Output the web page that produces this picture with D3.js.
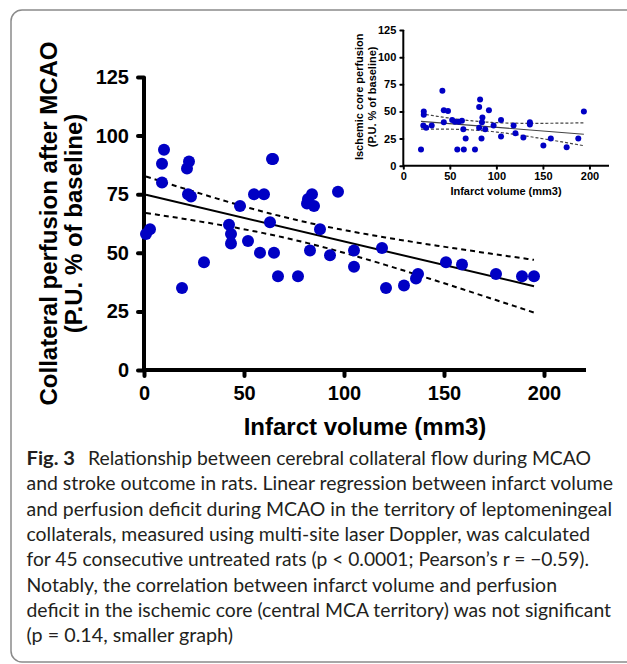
<!DOCTYPE html>
<html><head><meta charset="utf-8">
<script src="https://cdn.jsdelivr.net/npm/d3@7"></script>
<style>body{margin:0;background:#fff}svg{display:block}</style>
</head><body><svg id="c" width="627" height="664"></svg>
<script>
// ---- data ----
const mainInfarct = [1,3,10,9,9,22.5,21.5,22,23.5,19,30,42.5,43.5,43.5,48,52,55,58,60,64,64.5,63,65,67,77,81.5,82,84,85,83,88,93,97,105,105,119,121,130,136,137,151,159,176,189,195];
const mainPerfusion = [58,60,94,88,80,89,86,75,74,35,46,62,58,54,70,55,75,50,75,90,90,63,50,40,40,71,73,75,70,51,60,49,76,51,44,52,35,36,39,41,46,45,41,40,40];
const insetInfarct = [19,22,22,21.5,24.5,30.5,42,43.5,48,43.5,52.5,55.5,59.5,63,64.5,58,65,67,77,81.5,82.5,81.5,84,85,84.5,88,92,97,105,105,118.5,120.5,129,136,136,150.5,158.5,175.5,188,194];
const insetPerfusion = [15,50,47,37,35,37,69,51,50.5,40,42,40.5,40.5,41.5,33.5,15,15,25,15,54,61,35,25,44.5,40,33.5,51,37,42,27,37,30,26,40,38,18.5,25,17,25,50];
const yTicks = [0,25,50,75,100,125];
const xTicks = [0,50,100,150,200];
const captionBold = "Fig. 3";
const captionLines = [
  "Relationship between cerebral collateral flow during MCAO",
  "and stroke outcome in rats. Linear regression between infarct volume",
  "and perfusion deficit during MCAO in the territory of leptomeningeal",
  "collaterals, measured using multi-site laser Doppler, was calculated",
  "for 45 consecutive untreated rats (p < 0.0001; Pearson\u2019s r = \u22120.59).",
  "Notably, the correlation between infarct volume and perfusion",
  "deficit in the ischemic core (central MCA territory) was not significant",
  "(p = 0.14, smaller graph)"
];
const captionRight = [591,613,612,590,589,557,611,233];

const svg = d3.select("#c");

// outer rounded frame
svg.append("rect").attr("x",11).attr("y",10).attr("width",660).attr("height",652)
  .attr("rx",11).attr("fill","none").attr("stroke","#8a8a8a").attr("stroke-width",1.5);

function fit(xs, ys){
  const n = xs.length, xm = d3.mean(xs), ym = d3.mean(ys);
  let sxx=0, sxy=0;
  for(let i=0;i<n;i++){ sxx+=(xs[i]-xm)**2; sxy+=(xs[i]-xm)*(ys[i]-ym); }
  const b = sxy/sxx, a = ym - b*xm;
  let sse=0; for(let i=0;i<n;i++){ sse+=(ys[i]-(a+b*xs[i]))**2; }
  const s = Math.sqrt(sse/(n-2));
  return {a,b,s,n,xm,sxx,t:2.02};
}

function drawPanel(opt){
  const g = svg.append("g");
  const x = d3.scaleLinear().domain([0,221]).range(opt.xr);
  const y = d3.scaleLinear().domain([0,125]).range(opt.yr);
  const xs = opt.xs, ys = opt.ys;
  // axes
  const yAxis = d3.axisLeft(y).tickValues(yTicks).tickSize(opt.tick).tickPadding(opt.pad).tickFormat(d3.format("d"));
  const xAxis = d3.axisBottom(x).tickValues(xTicks).tickSize(opt.tick).tickPadding(opt.padx).tickFormat(d3.format("d"));
  const ga = g.append("g").attr("transform",`translate(${opt.xr[0]},0)`).call(yAxis);
  const gb = g.append("g").attr("transform",`translate(0,${opt.yr[0]})`).call(xAxis);
  [ga,gb].forEach(a=>{
    a.select(".domain").remove();
    a.selectAll(".tick line").attr("stroke","#000").attr("stroke-width",opt.aw).attr("stroke-linecap","round");
    a.selectAll(".tick text").attr("fill","#000").style("font-family","'Liberation Sans',Arial,sans-serif")
      .style("font-weight","bold").style("font-size",opt.fs+"px");
  });
  g.append("line").attr("x1",opt.xr[0]).attr("x2",opt.xr[0]).attr("y1",opt.yr[0]+opt.aw/2).attr("y2",opt.yr[1])
    .attr("stroke","#000").attr("stroke-width",opt.aw);
  g.append("line").attr("x1",opt.xr[0]).attr("x2",opt.xr[1]).attr("y1",opt.yr[0]).attr("y2",opt.yr[0])
    .attr("stroke","#000").attr("stroke-width",opt.aw);
  // regression
  const f = fit(xs,ys);
  const x0 = d3.min(xs), x1 = d3.max(xs);
  const grid = d3.range(0,61).map(i=>x0+(x1-x0)*i/60);
  const half = v => f.t*f.s*Math.sqrt(1/f.n + (v-f.xm)**2/f.sxx);
  const line = d3.line().x(d=>x(d[0])).y(d=>y(d[1]));
  g.append("path").attr("d",line(grid.map(v=>[v,f.a+f.b*v+half(v)]))).attr("fill","none")
    .attr("stroke",opt.lc).attr("stroke-width",opt.dw).attr("stroke-dasharray",opt.dash);
  g.append("path").attr("d",line(grid.map(v=>[v,f.a+f.b*v-half(v)]))).attr("fill","none")
    .attr("stroke",opt.lc).attr("stroke-width",opt.dw).attr("stroke-dasharray",opt.dash);
  g.append("path").attr("d",line([x0,x1].map(v=>[v,f.a+f.b*v]))).attr("fill","none")
    .attr("stroke",opt.lc).attr("stroke-width",opt.lw);
  // points
  g.append("g").selectAll("circle").data(xs.map((v,i)=>[v,ys[i]])).join("circle")
    .attr("cx",d=>x(d[0])).attr("cy",d=>y(d[1])).attr("r",opt.r).attr("fill","#0000c4");
  // titles
  const tf = "'Liberation Sans',Arial,sans-serif";
  const cy = (opt.yr[0]+opt.yr[1])/2 + opt.ty;
  opt.ytitle.forEach((t,i)=>{
    g.append("text").attr("transform",`translate(${opt.yb[i]},${cy}) rotate(-90)`).attr("text-anchor","middle")
      .style("font-family",tf).style("font-weight","bold").style("font-size",opt.tfs+"px").text(t);
  });
  g.append("text").attr("x",opt.xtx).attr("y",opt.xty).attr("text-anchor","middle")
    .style("font-family",tf).style("font-weight","bold").style("font-size",opt.tfs+"px").text("Infarct volume (mm3)");
}

drawPanel({xs:mainInfarct, ys:mainPerfusion, xr:[144,586], yr:[370,77], tick:6, pad:9, padx:10, aw:4, fs:20,
  lc:"#000", lw:2, dw:2, dash:"5,4", r:6, ytitle:["Collateral perfusion after MCAO","(P.U. % of baseline)"],
  yb:[57,82], ty:0, tfs:24, xtx:365, xty:435});
drawPanel({xs:insetInfarct, ys:insetPerfusion, xr:[403.3,609], yr:[165.7,30], tick:3, pad:4, padx:4, aw:2, fs:11,
  lc:"#444", lw:1.2, dw:1.2, dash:"3,2", r:3, ytitle:["Ischemic core perfusion","(P.U. % of baseline)"],
  yb:[363,376], ty:-1, tfs:11, xtx:506, xty:195});

// caption
const cf = "Lato,'Open Sans',sans-serif";
const cap = svg.append("g").attr("fill","#231f20").style("font-family",cf).style("font-size","19.5px");
cap.append("text").attr("x",26.5).attr("y",465).style("font-weight","bold")
  .attr("textLength",48.5).attr("lengthAdjust","spacingAndGlyphs").text(captionBold);
captionLines.forEach((t,i)=>{
  const x0 = i===0 ? 88 : 26.5;
  cap.append("text").attr("x",x0).attr("y",465+25.3*i)
    .attr("textLength",captionRight[i]-x0).attr("lengthAdjust","spacingAndGlyphs").text(t);
});
</script></body></html>
